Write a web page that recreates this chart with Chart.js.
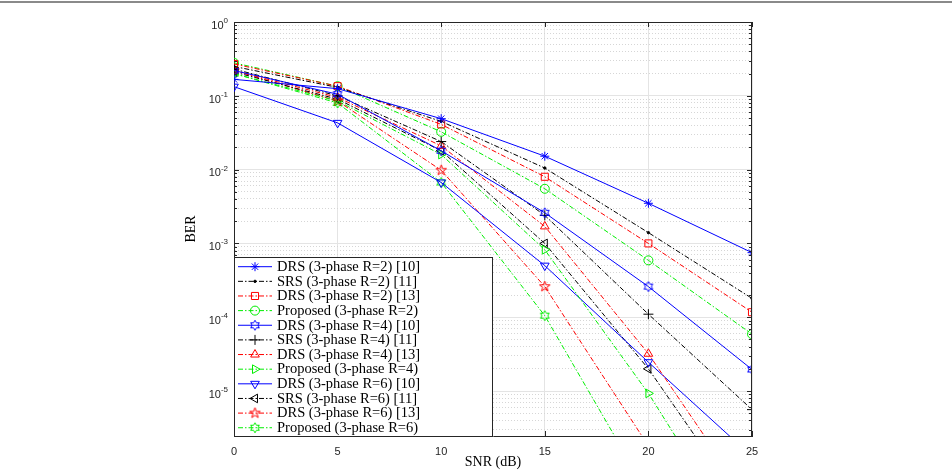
<!DOCTYPE html>
<html>
<head>
<meta charset="utf-8">
<script src="https://cdn.jsdelivr.net/npm/chart.js@4.4.1/dist/chart.umd.min.js"></script>
<style>
  html, body { margin: 0; padding: 0; background: #fff; }
  #wrap { width: 952px; height: 470px; }
</style>
</head>
<body>
<div id="wrap"><canvas id="myChart" width="952" height="470"></canvas></div>
<script>
// setup
const snr = [0, 5, 10, 15, 20, 25];

const drsR2_10 = [0.167, 0.125, 0.049, 0.0152, 0.0035, 0.00075];
const srsR2_11 = [0.25, 0.13, 0.045, 0.0105, 0.0014, 0.00018];
const drsR2_13 = [0.27, 0.135, 0.041, 0.008, 0.001, 0.000117];
const propR2 = [0.28, 0.135, 0.0325, 0.0055, 0.00059, 0.000059];
const drsR4_10 = [0.22, 0.105, 0.018, 0.0026, 0.00026, 0.0000196];
const srsR4_11 = [0.23, 0.1, 0.024, 0.0024, 0.00011, 0.0000056];
const drsR4_13 = [0.22, 0.095, 0.021, 0.0017, 0.000032, 2.8e-7];
const propR4 = [0.2, 0.085, 0.016, 0.00082, 0.0000093, 5.5e-8];
const drsR6_10 = [0.133, 0.043, 0.0067, 0.0005, 0.0000246, 1.3e-6];
const srsR6_11 = [0.21, 0.09, 0.018, 0.001, 0.00002, 1.9e-7];
const drsR6_13 = [0.22, 0.085, 0.0098, 0.00026, 1.8e-6, 1e-8];
const propR6 = [0.2, 0.08, 0.0067, 0.000105, 4e-7, 1e-9];

const labels = [
  'DRS (3-phase R=2) [10]', 'SRS (3-phase R=2) [11]', 'DRS (3-phase R=2) [13]', 'Proposed (3-phase R=2)',
  'DRS (3-phase R=4) [10]', 'SRS (3-phase R=4) [11]', 'DRS (3-phase R=4) [13]', 'Proposed (3-phase R=4)',
  'DRS (3-phase R=6) [10]', 'SRS (3-phase R=6) [11]', 'DRS (3-phase R=6) [13]', 'Proposed (3-phase R=6)'
];

const xTicks = [0, 5, 10, 15, 20, 25];
const yDecades = [0, -1, -2, -3, -4, -5];
const yMin = 2.46e-6;
const yMax = 1;

// custom markers (hexagram, pentagram)
function starCanvas(points, color, outer, inner) {
  const c = document.createElement('canvas');
  const s = Math.ceil(outer * 2 + 4);
  c.width = s; c.height = s;
  const g = c.getContext('2d');
  g.strokeStyle = color;
  g.lineWidth = 1;
  g.beginPath();
  for (let i = 0; i < points * 2; i++) {
    const r = i % 2 === 0 ? outer : inner;
    const a = -Math.PI / 2 + i * Math.PI / points;
    const px = s / 2 + r * Math.cos(a), py = s / 2 + r * Math.sin(a);
    if (i === 0) g.moveTo(px, py); else g.lineTo(px, py);
  }
  g.closePath();
  g.stroke();
  return c;
}
const hexBlue = starCanvas(6, '#0000ff', 5, 2.9);
const hexGreen = starCanvas(6, '#00ee00', 5, 2.9);
const pentRed = starCanvas(5, '#ff0000', 5.5, 2.2);

const BLUE = '#0000ff', BLACK = '#000000', RED = '#ff0000', GREEN = '#00ee00';
const DASHDOT = [5, 2, 1.5, 2];

function series(label, values, color, dash, pointStyle, radius, rotation) {
  return {
    label: label,
    data: values,
    borderColor: color,
    backgroundColor: color,
    borderWidth: 1,
    borderDash: dash,
    pointStyle: pointStyle,
    pointRadius: radius,
    pointRotation: rotation || 0,
    pointBorderColor: color,
    pointBackgroundColor: pointStyle === 'circle' && radius < 2 ? color : 'rgba(0,0,0,0)',
    pointBorderWidth: 1,
    tension: 0,
    fill: false
  };
}

const data = {
  labels: snr,
  datasets: [
    series(labels[0], drsR2_10, BLUE, [], 'star', 4.5),
    series(labels[1], srsR2_11, BLACK, DASHDOT, 'circle', 1.2),
    series(labels[2], drsR2_13, RED, DASHDOT, 'rect', 5),
    series(labels[3], propR2, GREEN, DASHDOT, 'circle', 4.5),
    series(labels[4], drsR4_10, BLUE, [], hexBlue, 5),
    series(labels[5], srsR4_11, BLACK, DASHDOT, 'cross', 5),
    series(labels[6], drsR4_13, RED, DASHDOT, 'triangle', 5),
    series(labels[7], propR4, GREEN, DASHDOT, 'triangle', 5, 90),
    series(labels[8], drsR6_10, BLUE, [], 'triangle', 5, 180),
    series(labels[9], srsR6_11, BLACK, DASHDOT, 'triangle', 5, -90),
    series(labels[10], drsR6_13, RED, DASHDOT, pentRed, 5),
    series(labels[11], propR6, GREEN, DASHDOT, hexGreen, 5)
  ]
};

const isDecade = (v) => Math.abs(Math.log10(v) - Math.round(Math.log10(v))) < 1e-6;

// box, inward ticks, y labels with exponents and legend drawn on top
const framePlugin = {
  id: 'frame',
  afterDatasetsDraw(chart) {
    const { ctx, chartArea: a, scales } = chart;
    ctx.save();
    // rule at the top of the figure
    ctx.fillStyle = '#8a8a8a';
    ctx.fillRect(0, 1, chart.width, 2);

    ctx.strokeStyle = '#262626';
    ctx.lineWidth = 1;
    ctx.beginPath();
    ctx.moveTo(a.left, a.top + 0.5); ctx.lineTo(a.right, a.top + 0.5);
    ctx.moveTo(a.right - 0.5, a.top); ctx.lineTo(a.right - 0.5, a.bottom);
    xTicks.forEach(v => {
      const x = Math.round(scales.x.getPixelForValue(v)) + 0.5;
      ctx.moveTo(x, a.bottom); ctx.lineTo(x, a.bottom - 5);
      ctx.moveTo(x, a.top); ctx.lineTo(x, a.top + 5);
    });
    scales.y.ticks.forEach(t => {
      const y = Math.round(scales.y.getPixelForValue(t.value)) + 0.5;
      const len = isDecade(t.value) ? 5 : 3;
      ctx.moveTo(a.left, y); ctx.lineTo(a.left + len, y);
      ctx.moveTo(a.right, y); ctx.lineTo(a.right - len, y);
    });
    ctx.stroke();

    // y tick labels: 10 with a raised exponent
    ctx.fillStyle = '#262626';
    ctx.textBaseline = 'alphabetic';
    ctx.textAlign = 'left';
    yDecades.forEach(e => {
      const y = scales.y.getPixelForValue(Math.pow(10, e));
      const exp = e === 0 ? '0' : '-' + Math.abs(e);
      ctx.font = '8px "Liberation Sans", Arial, sans-serif';
      const ew = ctx.measureText(exp).width;
      ctx.font = '11px "Liberation Sans", Arial, sans-serif';
      const bw = ctx.measureText('10').width;
      const right = a.left - 6;
      ctx.fillText('10', right - ew - bw, y + 6.7);
      ctx.font = '8px "Liberation Sans", Arial, sans-serif';
      ctx.fillText(exp, right - ew, y + 1);
    });

    // legend
    const lx = a.left, ly = 257, lw = 258, lh = a.bottom - ly;
    ctx.fillStyle = '#fff';
    ctx.fillRect(lx, ly, lw, lh);
    ctx.strokeStyle = '#262626';
    ctx.strokeRect(lx + 0.5, ly + 0.5, lw, lh);
    ctx.font = '14.5px "Liberation Serif", "Times New Roman", serif';
    ctx.textBaseline = 'middle';
    chart.data.datasets.forEach((ds, i) => {
      const y = 266.7 + i * 14.64;
      ctx.strokeStyle = ds.borderColor;
      ctx.setLineDash(ds.borderDash);
      ctx.beginPath();
      ctx.moveTo(238, y); ctx.lineTo(272, y);
      ctx.stroke();
      ctx.setLineDash([]);
      ctx.fillStyle = ds.pointBackgroundColor;
      Chart.helpers.drawPoint(ctx, {
        pointStyle: ds.pointStyle, radius: ds.pointRadius,
        rotation: ds.pointRotation, borderWidth: 1
      }, 255, y);
      ctx.fillStyle = '#000';
      ctx.fillText(ds.label, 277, y + 0.5);
    });
    ctx.restore();
  }
};

// config
const config = {
  type: 'line',
  data,
  options: {
    responsive: false,
    animation: false,
    layout: { padding: { top: 22, right: 200, left: 183, bottom: 0 } },
    plugins: {
      legend: { display: false },
      tooltip: { enabled: false }
    },
    scales: {
      x: {
        type: 'linear',
        min: 0,
        max: 25,
        afterBuildTicks: (scale) => { scale.ticks = xTicks.map(v => ({ value: v })); },
        afterFit: (scale) => { scale.height = 34; },
        grid: { color: '#e4e4e4', drawTicks: false },
        border: { color: '#262626' },
        ticks: {
          padding: 9,
          color: '#262626',
          font: { family: '"Liberation Sans", Arial, sans-serif', size: 11 }
        },
        title: {
          display: true,
          text: 'SNR (dB)',
          color: '#000',
          padding: { top: 0, bottom: -1 },
          font: { family: '"Liberation Serif", "Times New Roman", serif', size: 14 }
        }
      },
      y: {
        type: 'logarithmic',
        min: yMin,
        max: yMax,
        afterBuildTicks: (scale) => {
          const ticks = [];
          for (let e = -6; e <= 0; e++) {
            for (let m = 1; m <= 9; m++) {
              const v = m * Math.pow(10, e);
              if (v >= yMin && v <= yMax) ticks.push({ value: v, major: m === 1 });
            }
          }
          scale.ticks = ticks;
        },
        afterFit: (scale) => { scale.width = 51; },
        grid: {
          drawTicks: false,
          color: (ctx) => ctx.tick && isDecade(ctx.tick.value) ? '#e4e4e4' : '#d6d6d6'
        },
        border: {
          color: '#262626',
          dash: (ctx) => ctx.tick && !isDecade(ctx.tick.value) ? [1, 2] : []
        },
        ticks: {
          autoSkip: false,
          padding: 6,
          callback: () => ''
        },
        title: {
          display: true,
          text: 'BER',
          color: '#000',
          padding: { top: 0, bottom: 0 },
          font: { family: '"Liberation Serif", "Times New Roman", serif', size: 14 }
        }
      }
    }
  },
  plugins: [framePlugin]
};

// render init block
const myChart = new Chart(document.getElementById('myChart'), config);
</script>
</body>
</html>
